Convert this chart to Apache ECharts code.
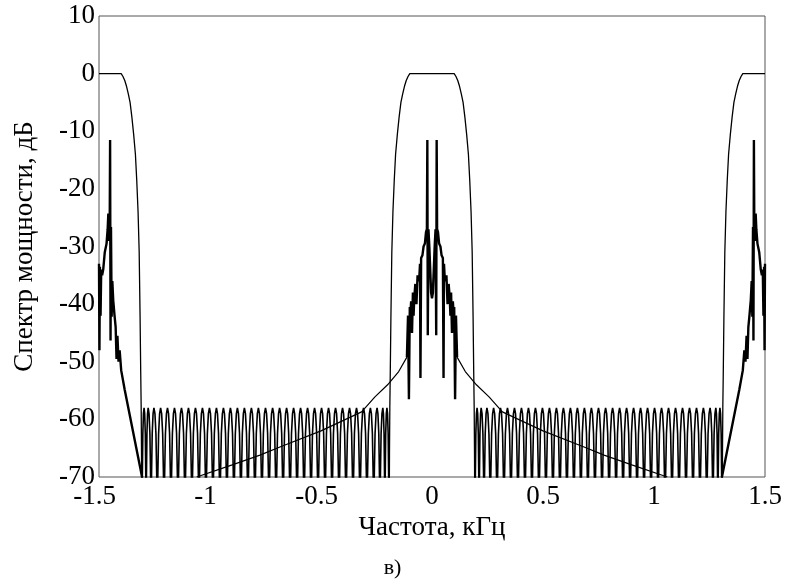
<!DOCTYPE html>
<html><head><meta charset="utf-8">
<script src="https://cdn.jsdelivr.net/npm/echarts/dist/echarts.min.js"></script>
<style>html,body{margin:0;padding:0;background:#fff}#c{width:785px;height:584px}</style>
</head><body><div id="c"></div>
<script>
// ---- axis ticks ----
const xTicks = [-1.5, -1, -0.5, 0, 0.5, 1, 1.5];
const yTicks = [-70, -60, -50, -40, -30, -20, -10, 0, 10];

// ---- filter response: lobe profile (offset from lobe centre, kHz) vs dB ----
const lobeCentres = [-1.5, 0, 1.5];
const lobeOffset = [0, 0.1, 0.108, 0.116, 0.124, 0.132, 0.14, 0.148, 0.156, 0.164, 0.170, 0.176, 0.181, 0.185, 0.188, 0.190, 0.1915, 0.193];
const lobeDb     = [0, 0, -0.5, -1.2, -2.2, -3.5, -5, -7.5, -10.5, -14, -18.5, -24, -31, -42, -52, -58, -66, -80];

// ---- filter stopband ripple: peak positions from band edge to 0.75 kHz ----
const ripplePeaks = [0.203, 0.2215, 0.2475, 0.2775, 0.3085, 0.34, 0.3715, 0.403, 0.4345, 0.466, 0.4975, 0.529, 0.5605, 0.592, 0.6235, 0.655, 0.6865, 0.718, 0.75];
// one ripple arch: position as fraction of peak spacing, level dB
const archOffset = [-0.5, -0.42, -0.3, -0.15, 0, 0.15, 0.3, 0.42];
const archDb     = [-85, -70, -62.5, -59, -58, -59, -62.5, -70];

// ---- signal spectrum: smooth skirt (left half; right half is its mirror) ----
const skirtX  = [-1.06, -0.9, -0.775, -0.685, -0.5, -0.317, -0.257, -0.2, -0.15, -0.113];
const skirtDb = [-70, -67.9, -66.2, -64.8, -62, -58.7, -56.1, -54, -51.7, -49.2];

// ---- signal spectrum: central lines (left half; right half is its mirror) ----
const spikeX  = [-0.113, -0.108, -0.104, -0.100, -0.097, -0.094, -0.090, -0.086, -0.083, -0.080, -0.075, -0.070, -0.065, -0.058, -0.054, -0.052, -0.049, -0.043, -0.038, -0.032, -0.027, -0.023, -0.021, -0.019, -0.016, -0.012, -0.008, -0.004, 0];
const spikeDb = [-49.2, -42, -56.5, -40.5, -41.5, -39.5, -45, -38, -42, -39, -36.5, -40, -35, -36, -33, -52.8, -32, -31.5, -30, -29.5, -27.5, -27, -11.5, -45.4, -27, -30, -34, -38, -39];

// ---- signal spectrum, image near -1.5 kHz (the one near +1.5 kHz is its mirror) ----
const aliasX  = [-1.500, -1.498, -1.496, -1.493, -1.490, -1.486, -1.481, -1.474, -1.466, -1.461, -1.458, -1.455, -1.452, -1.450, -1.448, -1.446, -1.443, -1.440, -1.436, -1.430, -1.425, -1.421, -1.417, -1.412, -1.407, -1.400, -1.384, -1.306];
const aliasDb = [-33, -48, -33.5, -42, -34, -35, -34, -31, -29.5, -27, -24.3, -29, -28, -11.5, -46.3, -26.6, -42.2, -36, -39.3, -42, -44, -49.5, -45.5, -50, -48, -51.5, -54.9, -70];

// ---- build series tables ----
function lobeUp(c) { return lobeOffset.map((d, i) => [c + d, lobeDb[i]]); }
function lobeDown(c) { return lobeOffset.map((d, i) => [c - d, lobeDb[i]]).reverse(); }
function arches(peaks) {
  const pts = [];
  const n = peaks.length;
  for (let i = 0; i < n; i++) {
    const p = peaks[i];
    const sL = i > 0 ? p - peaks[i - 1] : peaks[i + 1] - p;
    const sR = i < n - 1 ? peaks[i + 1] - p : p - peaks[i - 1];
    archOffset.forEach((f, k) => pts.push([p + f * (f < 0 ? sL : sR), archDb[k]]));
  }
  pts.push([peaks[n - 1] + 0.5 * (peaks[n - 1] - peaks[n - 2]), -85]);
  return pts;
}
function mirrored(xs, ys) {
  const left = xs.map((x, i) => [x, ys[i]]);
  return left.concat(left.slice(0, -1).reverse().map(p => [-p[0], p[1]]));
}
const rightPeaks = ripplePeaks.concat(ripplePeaks.slice(0, -1).reverse().map(p => +(lobeCentres[2] - p).toFixed(4)));
const leftPeaks = rightPeaks.map(p => -p).reverse();

const lobeData = [lobeUp(lobeCentres[0]), lobeDown(lobeCentres[1]).concat(lobeUp(lobeCentres[1]).slice(1)), lobeDown(lobeCentres[2])];
const rippleData = [arches(leftPeaks), arches(rightPeaks)];

const skirtLeft = skirtX.map((x, i) => [x, skirtDb[i]]);
const skirtRight = skirtLeft.map(p => [-p[0], p[1]]).reverse();
const spikeData = mirrored(spikeX, spikeDb);
const aliasLeft = aliasX.map((x, i) => [x, aliasDb[i]]);
const aliasRight = aliasLeft.map(p => [-p[0], p[1]]).reverse();

const FONT = 'Liberation Serif';
function line(data, width) {
  return { type: 'line', data: data, showSymbol: false, symbol: 'none', clip: true,
    lineStyle: { color: '#000', width: width } };
}
const chart = echarts.init(document.getElementById('c'), null, { renderer: 'canvas' });
chart.setOption({
  animation: false,
  backgroundColor: '#fff',
  grid: { left: 99, right: 20, top: 16, bottom: 107, show: true, borderColor: '#555', borderWidth: 1, containLabel: false },
  xAxis: {
    type: 'value', min: xTicks[0], max: xTicks[xTicks.length - 1], interval: 0.5,
    axisLine: { show: false }, axisTick: { show: false }, splitLine: { show: false },
    axisLabel: {
      showMinLabel: true, showMaxLabel: true, hideOverlap: false, margin: 6,
      formatter: v => {
        const s = String(v);
        return v < 0 ? '{n|' + s + '}{h|-}' : '{n|' + s + '}';
      },
      rich: {
        n: { fontFamily: FONT, fontSize: 27, color: '#000' },
        h: { fontFamily: FONT, fontSize: 27, color: 'rgba(0,0,0,0)' }
      }
    },
    name: 'Частота, кГц', nameLocation: 'middle', nameGap: 29,
    nameTextStyle: { fontFamily: FONT, fontSize: 27, color: '#000' }
  },
  yAxis: {
    type: 'value', min: yTicks[0], max: yTicks[yTicks.length - 1], interval: 10,
    axisLine: { show: false }, axisTick: { show: false }, splitLine: { show: false },
    axisLabel: { showMinLabel: true, showMaxLabel: true, hideOverlap: false, margin: 4,
      fontFamily: FONT, fontSize: 27, color: '#000' },
    name: 'Спектр мощности, дБ', nameLocation: 'middle', nameGap: 61,
    nameTextStyle: { fontFamily: FONT, fontSize: 27, color: '#000' }
  },
  graphic: [{
    type: 'text', left: 'center', top: 557,
    style: { text: 'в)', fontFamily: FONT, fontSize: 22, fill: '#000' }
  }],
  series: [
    line(lobeData[0], 1.3), line(lobeData[1], 1.3), line(lobeData[2], 1.3),
    line(rippleData[0], 1.6), line(rippleData[1], 1.6),
    line(skirtLeft, 1.2), line(skirtRight, 1.2),
    line(spikeData, 2.4),
    line(aliasLeft, 2.4), line(aliasRight, 2.4)
  ]
});
</script></body></html>
